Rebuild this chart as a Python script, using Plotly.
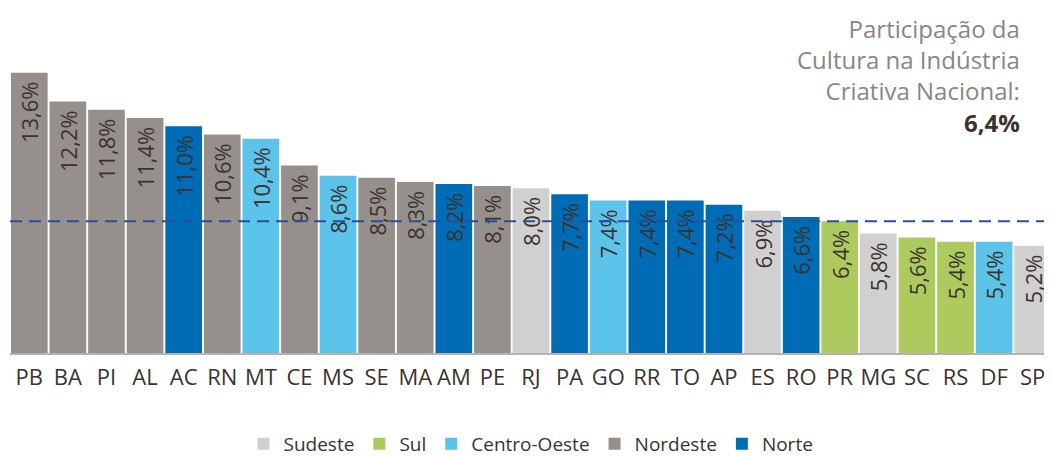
import plotly.graph_objects as go

states = ["PB","BA","PI","AL","AC","RN","MT","CE","MS","SE","MA","AM","PE","RJ","PA","GO","RR","TO","AP","ES","RO","PR","MG","SC","RS","DF","SP"]
values = [13.6,12.2,11.8,11.4,11.0,10.6,10.4,9.1,8.6,8.5,8.3,8.2,8.1,8.0,7.7,7.4,7.4,7.4,7.2,6.9,6.6,6.4,5.8,5.6,5.4,5.4,5.2]
regions = ["Nordeste","Nordeste","Nordeste","Nordeste","Norte","Nordeste","Centro-Oeste","Nordeste","Centro-Oeste","Nordeste","Nordeste","Norte","Nordeste","Sudeste","Norte","Centro-Oeste","Norte","Norte","Norte","Sudeste","Norte","Sul","Sudeste","Sul","Sul","Centro-Oeste","Sudeste"]
national = 6.4
legend_order = ["Sudeste","Sul","Centro-Oeste","Nordeste","Norte"]
colors = {"Sudeste":"#d1d0d0","Sul":"#adca5f","Centro-Oeste":"#5cc3ea","Nordeste":"#96908d","Norte":"#006cb5"}

FONT = "Open Sans"
W, H = 1044, 448
T, B = 52, 103
PH = H - T - B

fig = go.Figure()
for r in legend_order:
    xs = [s for s, g in zip(states, regions) if g == r]
    ys = [v for v, g in zip(values, regions) if g == r]
    fig.add_trace(go.Bar(
        x=xs, y=ys, name=r, marker_color=colors[r], marker_line_width=0,
        text=[f"{v:.1f}%".replace(".", ",") + " " for v in ys],
        textposition="inside", insidetextanchor="end", textangle=-90, constraintext="none",
        textfont=dict(family=FONT, size=22, color="#3b322e"),
        cliponaxis=False,
    ))

fig.add_shape(type="line", xref="paper", yref="y", x0=0, x1=1, y0=national, y1=national,
              line=dict(color="#2a4e9c", width=2, dash="12px,7px"), layer="above")

fig.add_annotation(xref="paper", yref="paper", x=1.0, y=1 + 50 / PH, xanchor="right", yanchor="top",
                   xshift=-30, align="right", showarrow=False,
                   text="Participação da<br>Cultura na Indústria<br>Criativa Nacional:<br><b><span style='color:#3b322e'>6,4%</span></b>",
                   font=dict(family=FONT, size=24, color="#8c8582"))

fig.update_layout(
    width=W, height=H,
    margin=dict(l=2, r=0, t=T, b=B, autoexpand=False),
    paper_bgcolor="white", plot_bgcolor="white",
    barmode="relative", bargap=0.05,
    showlegend=True,
    legend=dict(orientation="h", x=0.5, xanchor="center", y=-91 / PH, yanchor="middle",
                font=dict(family=FONT, size=19, color="#3b322e"), traceorder="normal",
                itemwidth=30, tracegroupgap=0),
    xaxis=dict(categoryorder="array", categoryarray=states, showline=True, linecolor="#b5b2b0",
               linewidth=2, ticks="", ticklabelstandoff=4,
               tickfont=dict(family=FONT, size=22, color="#3b322e")),
    yaxis=dict(range=[0, 14.22], visible=False, showgrid=False),
)
fig.write_html("out.html")
